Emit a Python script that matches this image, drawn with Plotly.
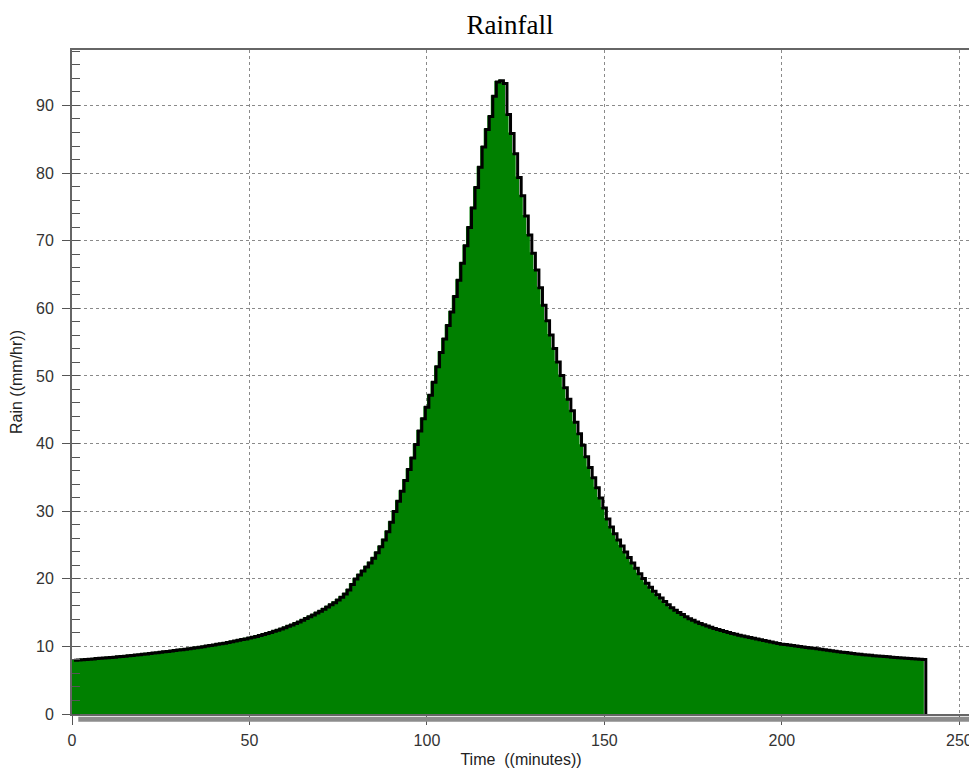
import plotly.graph_objects as go

# rainfall intensity per 1-minute step (mm/hr)
rain = [
    8.10, 8.14, 8.18, 8.22, 8.26, 8.30, 8.34, 8.38, 8.42, 8.46,
    8.50, 8.55, 8.60, 8.65, 8.70, 8.75, 8.80, 8.86, 8.92, 8.98,
    9.04, 9.10, 9.16, 9.22, 9.28, 9.34, 9.40, 9.46, 9.53, 9.60,
    9.67, 9.74, 9.81, 9.88, 9.95, 10.03, 10.11, 10.19, 10.27, 10.36,
    10.45, 10.54, 10.63, 10.73, 10.83, 10.93, 11.04, 11.15, 11.26, 11.38,
    11.50, 11.63, 11.77, 11.91, 12.06, 12.21, 12.37, 12.54, 12.72, 12.91,
    13.11, 13.32, 13.54, 13.77, 14.01, 14.26, 14.52, 14.79, 15.07, 15.36,
    15.66, 15.97, 16.29, 16.62, 17.00, 17.40, 17.90, 18.50, 19.30, 20.10,
    20.70, 21.30, 21.90, 22.50, 23.20, 24.00, 24.90, 25.90, 27.10, 28.50,
    30.10, 31.60, 33.10, 34.70, 36.30, 38.00, 40.00, 42.00, 43.80, 45.50,
    47.30, 49.20, 51.50, 53.60, 55.60, 57.60, 59.60, 61.90, 64.30, 66.80,
    69.40, 72.10, 75.00, 78.00, 81.00, 84.00, 86.60, 88.50, 91.50, 93.60,
    93.80, 93.40, 88.80, 86.00, 83.00, 79.50, 76.80, 73.80, 71.00, 68.30,
    65.80, 63.20, 60.60, 58.30, 56.20, 54.20, 52.20, 50.20, 48.40, 46.70,
    45.00, 43.30, 41.60, 39.90, 38.20, 36.60, 35.10, 33.60, 32.10, 30.60,
    29.00, 27.80, 26.80, 25.90, 25.00, 24.10, 23.30, 22.50, 21.70, 20.90,
    20.20, 19.50, 18.90, 18.30, 17.80, 17.30, 16.80, 16.30, 15.85, 15.50,
    15.15, 14.85, 14.55, 14.25, 14.00, 13.77, 13.55, 13.35, 13.15, 12.97,
    12.80, 12.64, 12.49, 12.34, 12.20, 12.06, 11.93, 11.80, 11.67, 11.56,
    11.45, 11.34, 11.23, 11.12, 11.01, 10.90, 10.79, 10.68, 10.58, 10.48,
    10.41, 10.34, 10.27, 10.20, 10.13, 10.06, 9.99, 9.92, 9.86, 9.79,
    9.72, 9.65, 9.58, 9.51, 9.44, 9.37, 9.30, 9.23, 9.16, 9.09,
    9.03, 8.98, 8.93, 8.88, 8.83, 8.78, 8.73, 8.68, 8.64, 8.60,
    8.56, 8.52, 8.48, 8.44, 8.40, 8.36, 8.32, 8.28, 8.24, 8.20,
]
step = 1  # minutes
minutes = [i * step for i in range(len(rain))]
x_ticks = [0, 50, 100, 150, 200, 250]

# close the last step down to zero
end = minutes[-1] + step
xs = minutes + [end, end]
ys = rain + [rain[-1], 0]

fig = go.Figure()
# black outline on offset axes, so it peeks out right of the green (shadow look)
fig.add_scatter(x=xs, y=ys, mode='lines', xaxis='x2', yaxis='y2',
                line=dict(shape='hv', color='black', width=3),
                hoverinfo='skip', showlegend=False)
fig.add_scatter(x=xs, y=ys, mode='lines', fill='tozeroy',
                fillcolor='#008000', line=dict(shape='hv', color='#008000', width=0),
                name='Rain', showlegend=False)

xr = [0, 253]
yr = [0, 98.2]
dx, dy = 0.55, 0.15
grid = dict(showgrid=True, gridcolor='#8a8a8a', griddash='dot', gridwidth=1)
tickfont = dict(family='Liberation Sans, Arial', size=16, color='#333333')
labfont = dict(family='Liberation Sans, Arial', size=16, color='#222222')

# page has an 8px body margin, so the figure is sized 8px smaller
fig.update_layout(
    width=969, height=767,
    margin=dict(l=64, r=7, t=42, b=61),
    paper_bgcolor='white', plot_bgcolor='white',
    title=dict(text='Rainfall', x=0.518, xanchor='center', y=0.979, yanchor='middle',
               font=dict(family='Liberation Serif, Times New Roman', size=27, color='black')),
    xaxis=dict(range=xr, tickvals=x_ticks, ticks='outside', ticklen=9, tickcolor='#555',
               ticklabelstandoff=2, automargin=False,
               showline=True, mirror=True, linecolor='#666', linewidth=2,
               tickfont=tickfont, zeroline=False,
               title=dict(text='Time  ((minutes))', standoff=6, font=labfont),
               **grid),
    xaxis2=dict(range=[xr[0] - dx, xr[1] - dx], overlaying='x', visible=False),
    yaxis=dict(range=yr, dtick=10, ticks='outside', ticklen=8, tickcolor='#555',
               ticklabelstandoff=5, automargin=False,
               showline=True, mirror=True, linecolor='#666', linewidth=2,
               tickfont=tickfont, zeroline=False,
               minor=dict(dtick=2, ticks='inside', ticklen=8, tickcolor='#555', showgrid=False),
               title=dict(text='Rain ((mm/hr))', standoff=10, font=labfont),
               **grid),
    yaxis2=dict(range=[yr[0] + dy, yr[1] + dy], overlaying='y', visible=False),
)

# grey drop shadow along the right and bottom of the frame
fig.add_shape(type='line', xref='paper', yref='paper', x0=1.004, x1=1.004, y0=-0.008, y1=0.99,
              line=dict(color='#8c8c8c', width=5))
fig.add_shape(type='line', xref='paper', yref='paper', x0=0.007, x1=1.004, y0=-0.008, y1=-0.008,
              line=dict(color='#8c8c8c', width=5))

fig.write_html("out.html")
